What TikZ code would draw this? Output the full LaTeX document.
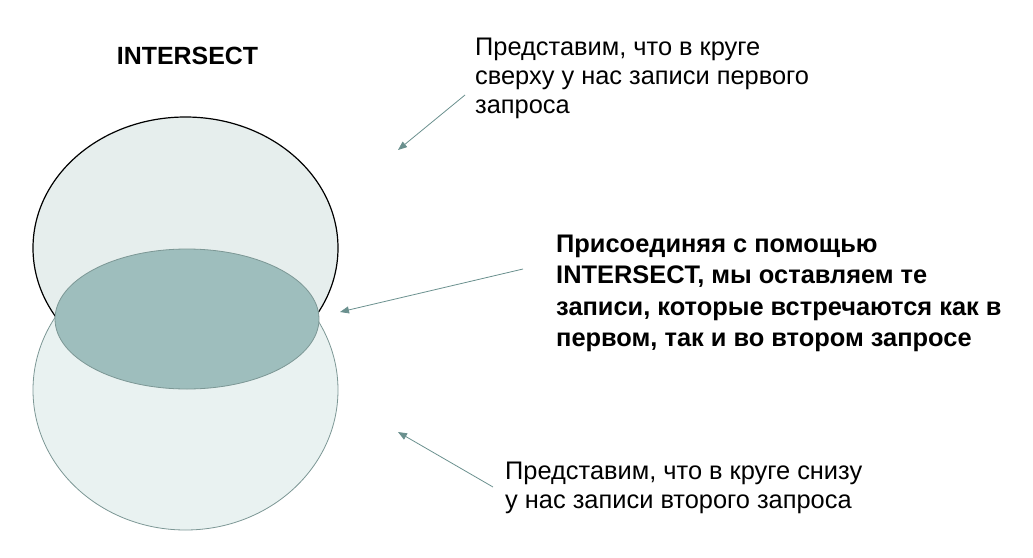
\documentclass[tikz,border=0pt]{standalone}
\usepackage{fontspec}
\setmainfont{Liberation Sans}
\usetikzlibrary{arrows.meta,shapes.geometric}
\definecolor{upfill}{HTML}{E6EEED}
\definecolor{downfill}{HTML}{E9F2F1}
\definecolor{downline}{HTML}{7C9795}
\definecolor{commonfill}{HTML}{9EBEBD}
\definecolor{pointerc}{HTML}{6A908E}

\begin{document}
\begin{tikzpicture}[x=1pt, y=-1pt,
	set/.style={ellipse, inner sep=0pt},
	note/.style={anchor=north west, inner sep=0pt, align=left, font=\fontsize{25.4}{29}\selectfont},
	boldnote/.style={anchor=north west, inner sep=0pt, align=left, font=\fontsize{25.4}{31.5}\selectfont\bfseries},
	pointer/.style={draw=pointerc, line width=0.8pt, -{Triangle[length=9pt, width=7pt]}}]
	\useasboundingbox (0,0) rectangle (1033,557);

	% sets
	\node[set, draw=black, line width=1.2pt, fill=upfill, minimum width=305pt, minimum height=262pt] (upper) at (185.5,248) {};
	\node[set, draw=downline, line width=0.8pt, fill=downfill, minimum width=305pt, minimum height=280pt] (lower) at (185.5,390) {};
	\node[set, draw=downline, line width=0.8pt, fill=commonfill, minimum width=264pt, minimum height=140pt] (common) at (187,319) {};

	% texts
	\node[anchor=base, inner sep=0pt, font=\fontsize{24.9}{29}\selectfont\bfseries] (title) at (187.5,64) {INTERSECT};
	\node[note] (uppertext) at (475,38) {Представим, что в круге\\сверху у нас записи первого\\запроса};
	\node[boldnote] (commontext) at (556,234.5) {Присоединяя с помощью\\INTERSECT, мы оставляем те\\записи, которые встречаются как в\\первом, так и во втором запросе};
	\node[note] (lowertext) at (505,462) {Представим, что в круге снизу\\у нас записи второго запроса};

	% pointers
	\coordinate (p1) at (465,95);
	\coordinate (q1) at (398,150);
	\coordinate (p2) at (523,269);
	\coordinate (q2) at (340,312);
	\coordinate (p3) at (493,487);
	\coordinate (q3) at (398,432);
	\draw[pointer] (p1) -- (q1);
	\draw[pointer] (p2) -- (q2);
	\draw[pointer] (p3) -- (q3);
\end{tikzpicture}
\end{document}
